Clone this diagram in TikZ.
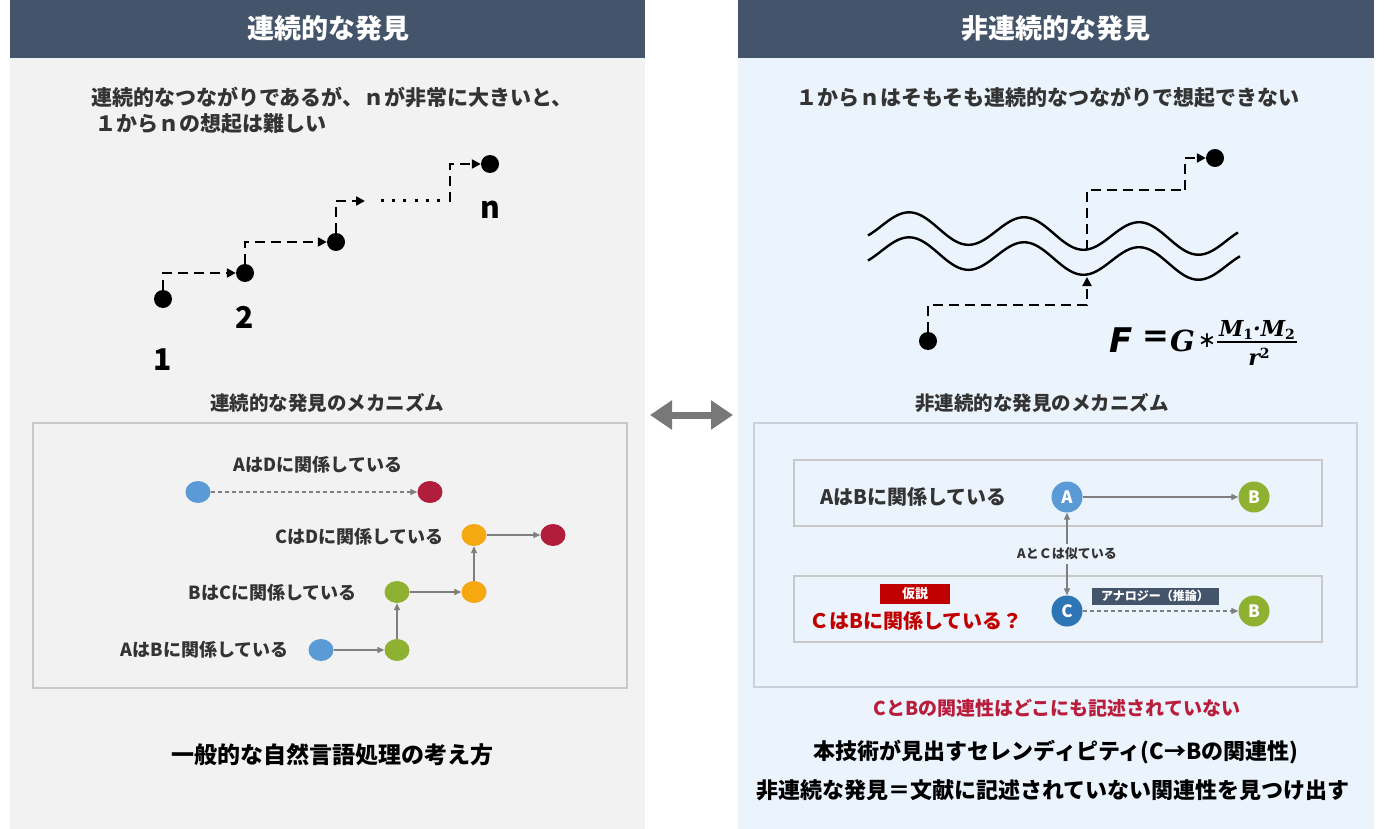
\documentclass[tikz,border=0pt]{standalone}
\usepackage{fontspec}
\setmainfont{Noto Sans CJK JP}
\newfontfamily\dejavu{DejaVu Sans}
\newfontfamily\dserif{DejaVu Serif}
\usetikzlibrary{arrows.meta,shapes.geometric}
\definecolor{header}{HTML}{44546A}
\definecolor{leftbg}{HTML}{F2F2F2}
\definecolor{rightbg}{HTML}{EBF3FC}
\definecolor{txt}{HTML}{333333}
\definecolor{dblue}{HTML}{5B9BD5}
\definecolor{dred}{HTML}{B01E3C}
\definecolor{dgreen}{HTML}{8EB131}
\definecolor{dorange}{HTML}{F5A80F}
\definecolor{cblue}{HTML}{2E75B6}
\definecolor{agray}{HTML}{7F7F7F}
\definecolor{hred}{HTML}{C00000}
\definecolor{crim}{HTML}{B81E3C}
\definecolor{boxgray}{HTML}{C8C8C8}
\definecolor{boxblue}{HTML}{C9D1DB}
\definecolor{midgray}{HTML}{787878}
\begin{document}
\begin{tikzpicture}[x=1pt,y=-1pt,
  jp/.style={font=\bfseries\fontsize{#1}{#1}\selectfont, inner sep=0pt},
  sdot/.style={circle, fill=black, minimum size=18pt, inner sep=0pt},
  stairline/.style={line width=2.6pt, dash pattern=on 10pt off 6pt},
  stair/.style={stairline, -{Triangle[length=9pt,width=9pt]}},
  wave/.style={line width=2.4pt},
  ldot/.style={ellipse, minimum width=25pt, minimum height=22pt, inner sep=0pt},
  cdot/.style={circle, minimum size=31pt, inner sep=0pt, text=white, font=\bfseries\fontsize{17}{17}\selectfont},
  garr/.style={draw=agray, line width=1.3pt, -{Triangle[length=7pt,width=6pt]}},
  gdash/.style={garr, dash pattern=on 4pt off 3pt},
  boxline/.style={line width=1.2pt},
  fserif/.style={inner sep=0pt, font=\dserif\bfseries\itshape\fontsize{#1}{#1}\selectfont},
]
\useasboundingbox (0,0) rectangle (1386,829);
\fill[white] (0,0) rectangle (1386,829);
% panels
\fill[leftbg] (10,58) rectangle (645,829);
\fill[rightbg] (738,58) rectangle (1374,829);
\fill[header] (10,0) rectangle (645,58);
\fill[header] (738,0) rectangle (1374,58);
\node[jp=27, text=white] (h1) at (328,28) {連続的な発見};
\node[jp=27, text=white] (h2) at (1056,28) {非連続的な発見};
% subtitles
\node[jp=21, text=txt, anchor=west] (s1a) at (91,97) {連続的なつながりであるが、ｎが非常に大きいと、};
\node[jp=21, text=txt, anchor=west] (s1b) at (95,124) {１からｎの想起は難しい};
\node[jp=21, text=txt] (s2) at (1048,97) {１からｎはそもそも連続的なつながりで想起できない};
% staircase
\node[sdot] (d1) at (163,299) {};
\node[sdot] (d2) at (245,273) {};
\node[sdot] (d3) at (336,242) {};
\node[sdot] (dn) at (490,164) {};
\node[jp=30] (l1) at (163,360) {1};
\node[jp=30] (l2) at (245,317) {2};
\node[jp=30] (ln) at (490,210) {n};
\draw[stair] (d1.north) |- (d2);
\draw[stair] (d2.north) |- (d3);
\coordinate (c1) at (365,201);
\draw[stair] (d3.north) |- (c1);
\coordinate (c2) at (381,201);
\coordinate (c3) at (442,201);
\draw[line width=3pt, dash pattern=on 3pt off 8.2pt] (c2) -- (c3);
\coordinate (c4) at (450,202);
\draw[stair] (c4) |- (dn);
% waves
\draw[wave] plot[domain=868:1238, samples=160, smooth] (\x, {228.5+0.043*(\x-937)-15*cos(3.1304*(\x-910))});
\draw[wave] plot[domain=868:1240, samples=160, smooth] (\x, {253.5+0.043*(\x-937)-15*cos(3.1304*(\x-910))});
% right path
\node[sdot] (r1) at (928,341) {};
\node[sdot] (rn) at (1215,158) {};
\coordinate (k1) at (1087,305);
\coordinate (k2) at (1087,277);
\draw[stair] (r1.north) |- (k1) -- (k2);
\coordinate (k3) at (1087,250);
\coordinate (k4) at (1185,190);
\draw[stairline] (k3) |- (k4);
\draw[stair] (k4) |- (rn);
% formula
\node[anchor=west, inner sep=0pt, font=\dejavu\bfseries\itshape\fontsize{34}{34}\selectfont] (fF) at (1109,340) {F};
\node[anchor=west, inner sep=0pt, font=\dejavu\bfseries\fontsize{32}{32}\selectfont] (feq) at (1142,339) {=};
\node[fserif=29, anchor=west] (fG) at (1170,341) {G};
\node[inner sep=0pt, font=\dejavu\fontsize{22}{22}\selectfont] (fast) at (1207,341) {∗};
\node[fserif=22] (fnum) at (1257,330) {M{\upshape\fontsize{14}{14}\selectfont\raisebox{-3pt}{1}}·M{\upshape\fontsize{14}{14}\selectfont\raisebox{-3pt}{2}}};
\node[fserif=22] (fden) at (1259,357) {r{\upshape\fontsize{14}{14}\selectfont\raisebox{7pt}{2}}};
\coordinate (fbl) at (1217,342);
\coordinate (fbr) at (1297,342);
\draw[line width=1.8pt] (fbl) -- (fbr);
% middle arrow
\coordinate (ml) at (650,415);
\coordinate (mr) at (733,415);
\draw[line width=7pt, midgray, {Triangle[length=22pt,width=28pt]}-{Triangle[length=22pt,width=28pt]}] (ml) -- (mr);
% mechanism titles
\node[jp=19.5, text=txt] (m1) at (327,403) {連続的な発見のメカニズム};
\node[jp=19.5, text=txt] (m2) at (1042,403) {非連続的な発見のメカニズム};
% left box
\draw[boxline, draw=boxgray] (33,423) rectangle (627,688);
\node[ldot, fill=dblue] (la1) at (198,492) {};
\node[ldot, fill=dred] (ld1) at (430,492) {};
\draw[gdash] (la1) -- (ld1);
\node[jp=18, text=txt] (t1) at (318,465) {AはDに関係している};
\node[ldot, fill=dorange] (lc2) at (474,535) {};
\node[ldot, fill=dred] (ld2) at (553,535) {};
\node[jp=18, text=txt, anchor=east] (t2) at (444,537) {CはDに関係している};
\node[ldot, fill=dgreen] (lb3) at (397,592) {};
\node[ldot, fill=dorange] (lc3) at (474,592) {};
\node[jp=18, text=txt, anchor=east] (t3) at (357,593) {BはCに関係している};
\node[ldot, fill=dblue] (la4) at (321,650) {};
\node[ldot, fill=dgreen] (lb4) at (397,650) {};
\node[jp=18, text=txt, anchor=east] (t4) at (289,650) {AはBに関係している};
\draw[garr] (la4) -- (lb4);
\draw[garr] (lb4) -- (lb3);
\draw[garr] (lb3) -- (lc3);
\draw[garr] (lc3) -- (lc2);
\draw[garr] (lc2) -- (ld2);
% right box
\draw[boxline, draw=boxblue] (754,423) rectangle (1357,687);
\draw[boxline, draw=boxgray] (794,460) rectangle (1322,526);
\draw[boxline, draw=boxgray] (794,576) rectangle (1322,642);
\node[jp=20, text=txt, anchor=west] (u1) at (820,497) {AはBに関係している};
\node[cdot, fill=dblue] (ra) at (1067,497) {A};
\node[cdot, fill=dgreen] (rb1) at (1254,497) {B};
\draw[garr] (ra) -- (rb1);
\node[cdot, fill=cblue] (rc) at (1067,611) {C};
\node[cdot, fill=dgreen] (rb2) at (1254,611) {B};
\draw[gdash] (rc) -- (rb2);
\draw[garr, {Triangle[length=7pt,width=6pt]}-{Triangle[length=7pt,width=6pt]}] (ra) -- node[fill=rightbg, jp=13, text=txt, inner xsep=2pt, inner ysep=4pt] (sim) {AとＣは似ている} (rc);
\node[fill=hred, text=white, jp=13, minimum width=70pt, minimum height=20pt] (kasetsu) at (915,594) {仮説};
\node[jp=20, text=hred, anchor=west] (hyp) at (809,621) {ＣはBに関係している？};
\node[fill=header, text=white, jp=12, minimum width=127pt, minimum height=17pt] (anal) at (1155,596) {アナロジー（推論）};
% bottom texts
\node[jp=19, text=crim] (r1t) at (1057,708) {CとBの関連性はどこにも記述されていない};
\node[jp=22, text=black] (r2t) at (1056,752) {本技術が見出すセレンディピティ(C→Bの関連性)};
\node[jp=22, text=black] (r3t) at (1053,790) {非連続な発見＝文献に記述されていない関連性を見つけ出す};
\node[jp=23, text=black] (lbt) at (332,755) {一般的な自然言語処理の考え方};
\end{tikzpicture}
\end{document}
